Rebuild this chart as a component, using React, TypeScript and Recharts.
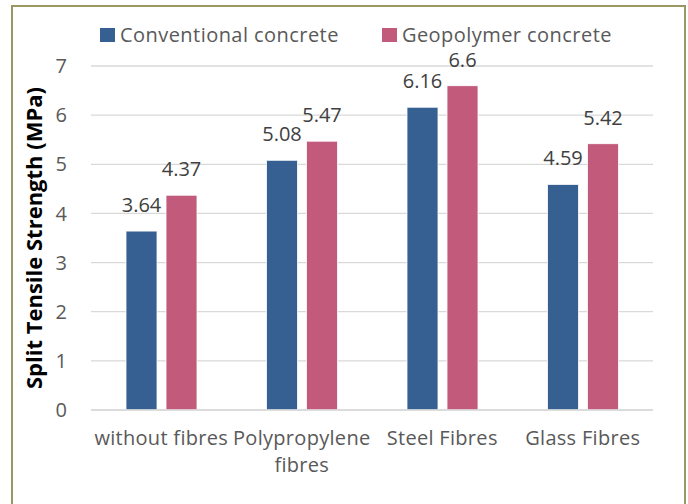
import { Bar, BarChart, CartesianGrid, LabelList, XAxis, YAxis } from "recharts";

const categories = ["without fibres", "Polypropylene fibres", "Steel Fibres", "Glass Fibres"];
const conventional = [3.64, 5.08, 6.16, 4.59];
const geopolymer = [4.37, 5.47, 6.6, 5.42];
const yTicks = [0, 1, 2, 3, 4, 5, 6, 7];

const data = categories.map((name, i) => ({
  name,
  conventional: conventional[i],
  geopolymer: geopolymer[i],
}));

const FONT = "'Open Sans', sans-serif";
const BLUE = "#365F92";
const PINK = "#C25B7B";

// splits long category names over two lines, like Excel does
function CategoryTick({ x, y, payload }: any) {
  const label: string = payload.value;
  let lines = [label];
  if (label.length > 16) {
    const cut = label.lastIndexOf(" ");
    lines = [label.slice(0, cut), label.slice(cut + 1)];
  }
  return (
    <text x={x} y={y} textAnchor="middle" fill="#595959" fontSize={20} fontFamily={FONT} letterSpacing={0.3}>
      {lines.map((l, i) => (
        <tspan key={i} x={x} dy={i === 0 ? 29 : 27}>
          {l}
        </tspan>
      ))}
    </text>
  );
}

function LegendBox() {
  const items = [
    { label: "Conventional concrete", color: BLUE },
    { label: "Geopolymer concrete", color: PINK },
  ];
  return (
    <div
      style={{
        position: "absolute",
        left: 100,
        top: 21,
        display: "flex",
        gap: 43,
        fontFamily: FONT,
        fontSize: 20,
        letterSpacing: 0.45,
        color: "#595959",
        lineHeight: "28px",
      }}
    >
      {items.map((it) => (
        <div key={it.label} style={{ display: "flex", alignItems: "center" }}>
          <span style={{ width: 15, height: 14, background: it.color, marginRight: 5, display: "inline-block" }} />
          <span>{it.label}</span>
        </div>
      ))}
    </div>
  );
}

export default function App() {
  return (
    <div style={{ position: "absolute", left: 0, top: 0, width: 688, height: 504, overflow: "hidden", background: "#fff" }}>
      <div
        style={{
          position: "absolute",
          left: 11,
          top: 5,
          width: 671,
          height: 520,
          border: "2px solid #9C9662",
        }}
      />
      <div style={{ position: "absolute", left: 0, top: 0 }}>
        <BarChart
          width={688}
          height={504}
          data={data}
          margin={{ top: 66, right: 35, left: 0, bottom: 34 }}
          barGap={9}
          barSize={31}
        >
          <CartesianGrid vertical={false} stroke="#D9D9D9" strokeWidth={1.3} />
          <XAxis
            dataKey="name"
            axisLine={{ stroke: "#D9D9D9", strokeWidth: 1.3 }}
            tickLine={false}
            tickMargin={0}
            height={60}
            interval={0}
            tick={<CategoryTick />}
          />
          <YAxis
            width={91}
            domain={[0, 7]}
            ticks={yTicks}
            axisLine={false}
            tickLine={false}
            tickMargin={18}
            tick={{ fill: "#595959", fontSize: 20, fontFamily: FONT }}
            label={{
              value: "Split Tensile Strength (MPa)",
              angle: -90,
              position: "insideLeft",
              offset: 0,
              dx: 34,
              dy: 0,
              style: { textAnchor: "middle", fontFamily: FONT, fontSize: 22, fontWeight: 700, fill: "#000" },
            }}
          />
          <Bar dataKey="conventional" fill={BLUE} stroke="#fff" strokeWidth={0.8} isAnimationActive={false}>
            <LabelList dataKey="conventional" position="top" offset={19} fill="#404040" fontSize={20} fontFamily={FONT} />
          </Bar>
          <Bar dataKey="geopolymer" fill={PINK} stroke="#fff" strokeWidth={0.8} isAnimationActive={false}>
            <LabelList dataKey="geopolymer" position="top" offset={19} fill="#404040" fontSize={20} fontFamily={FONT} />
          </Bar>
        </BarChart>
      </div>
      <LegendBox />
    </div>
  );
}
